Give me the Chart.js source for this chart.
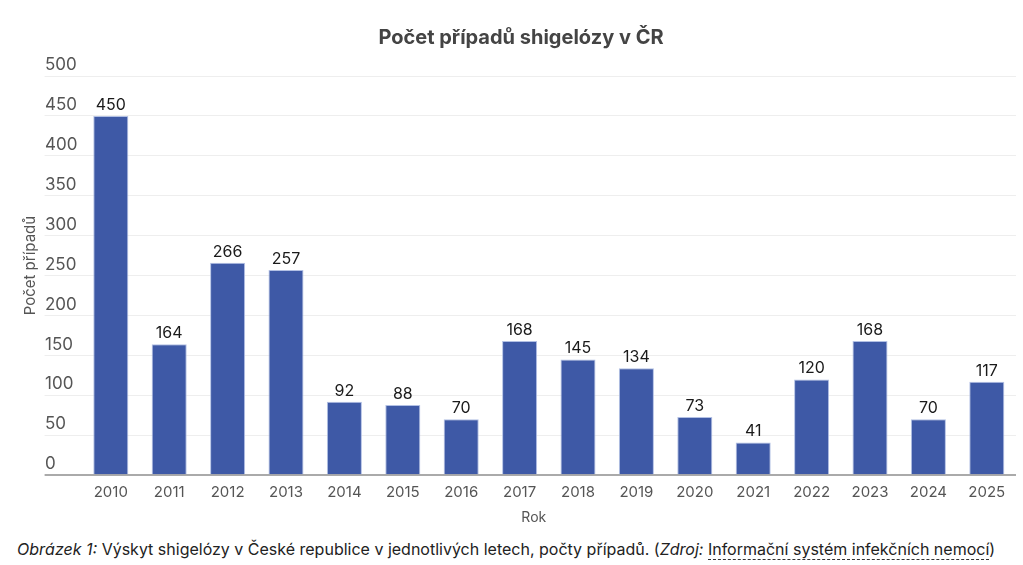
<!DOCTYPE html>
<html lang="cs">
<head>
<meta charset="utf-8">
<script src="https://cdn.jsdelivr.net/npm/chart.js@4/dist/chart.umd.min.js"></script>
<style>
  body { margin: 0; background: #fff; font-family: Inter, "Noto Sans", sans-serif; }
  #wrap { position: relative; width: 1023px; height: 530px; }
  .caption { position: absolute; left: 17px; top: 539px; font-size: 16px; color: #222; white-space: nowrap; }
  .caption a { color: #222; text-decoration: none; border-bottom: 1px dashed #333; }
</style>
</head>
<body>
<div id="wrap"><canvas id="chart"></canvas></div>
<div class="caption"><i>Obrázek 1:</i> Výskyt shigelózy v České republice v jednotlivých letech, počty případů. (<i>Zdroj:</i> <a href="#">Informační systém infekčních nemocí</a>)</div>
<script>
const years = ['2010', '2011', '2012', '2013', '2014', '2015', '2016', '2017',
    '2018', '2019', '2020', '2021', '2022', '2023', '2024', '2025'];
const cases = [450, 164, 266, 257, 92, 88, 70, 168, 145, 134, 73, 41, 120, 168, 70, 117];

const FONT = 'Inter, "Noto Sans", sans-serif';

// hodnoty nad sloupci + drobné posuny popisků os
const barLabels = {
    id: 'barLabels',
    afterLayout(chart) {
        const t = chart.scales.yTitle;
        if (t) t.bottom -= 20;
        const x = chart.scales.x;
        if (x) x.left -= 30;
    },
    afterDatasetsDraw(chart) {
        const ctx = chart.ctx;
        const meta = chart.getDatasetMeta(0);
        ctx.save();
        ctx.font = '16px ' + FONT;
        ctx.fillStyle = '#1a1a1a';
        ctx.textAlign = 'center';
        ctx.textBaseline = 'bottom';
        meta.data.forEach((bar, i) => {
            ctx.fillText(chart.data.datasets[0].data[i], bar.x, bar.y - 3);
        });
        ctx.restore();
    }
};

Chart.defaults.font.family = FONT;

new Chart(document.getElementById('chart'), {
    type: 'bar',
    data: {
        labels: years,
        datasets: [{
            data: cases,
            yAxisID: 'y',
            backgroundColor: '#3e59a6',
            borderColor: 'rgba(170, 185, 225, 0.9)',
            borderWidth: 1,
            barPercentage: 0.6,
            categoryPercentage: 1
        }]
    },
    options: {
        responsive: true,
        maintainAspectRatio: false,
        animation: false,
        layout: { padding: { left: 19, right: 0, top: 0, bottom: 4 } },
        plugins: {
            legend: { display: false },
            tooltip: { enabled: false },
            title: {
                display: true,
                text: 'Počet případů shigelózy v ČR',
                color: '#444',
                font: { size: 20, weight: 'bold' },
                padding: { top: 26, bottom: 26 }
            }
        },
        scales: {
            yTitle: {
                type: 'linear',
                position: 'left',
                weight: 10,
                ticks: { display: false },
                grid: { display: false, drawTicks: false },
                border: { display: false },
                title: {
                    display: true,
                    text: 'Počet případů',
                    color: '#555',
                    font: { size: 15 },
                    padding: { top: 2, bottom: 6 }
                }
            },
            y: {
                position: 'left',
                weight: 0,
                min: 0,
                max: 500,
                afterFit(scale) { scale.width = 36.6; },
                ticks: {
                    stepSize: 50,
                    crossAlign: 'far',
                    labelOffset: -11,
                    color: '#555',
                    font: { size: 17 }
                },
                grid: {
                    color: (c) => c.tick && c.tick.value === 0 ? '#aaa' : '#eeeeee',
                    tickColor: (c) => c.tick && c.tick.value === 0 ? '#aaa' : '#eeeeee',
                    lineWidth: (c) => c.tick && c.tick.value === 0 ? 2 : 1,
                    tickLength: 37
                },
                border: { display: false }
            },
            yRight: {
                type: 'linear',
                position: 'right',
                afterFit(scale) { scale.width = 7; },
                ticks: { display: false },
                grid: { display: false, drawTicks: false },
                border: { display: false }
            },
            x: {
                grid: { display: false, drawTicks: false },
                border: { display: false },
                ticks: { color: '#555', font: { size: 15 }, padding: 8 },
                title: {
                    display: true,
                    text: 'Rok',
                    color: '#555',
                    font: { size: 14 },
                    padding: { top: 0, bottom: 0 }
                }
            }
        }
    },
    plugins: [barLabels]
});
</script>
</body>
</html>
